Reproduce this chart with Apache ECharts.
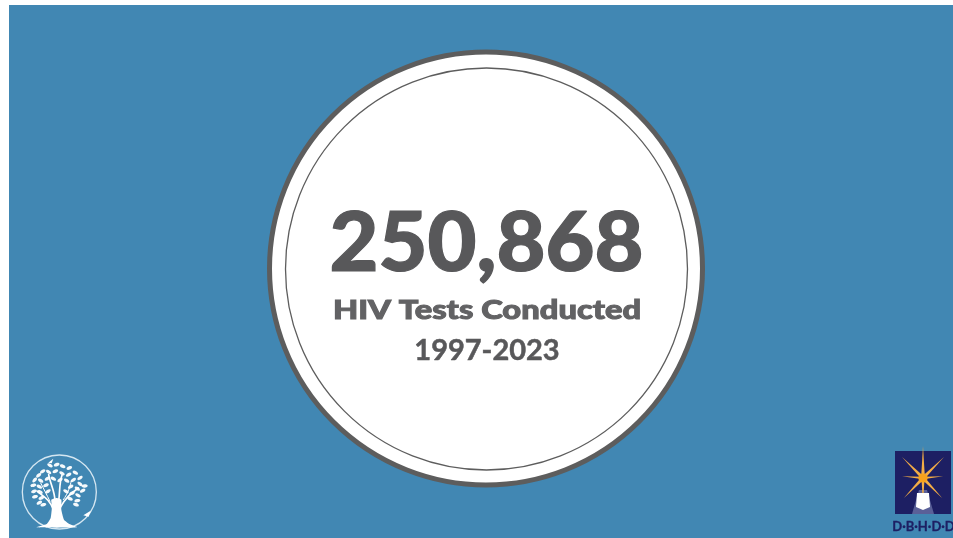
<!DOCTYPE html>
<html><head><meta charset="utf-8">
<style>html,body{margin:0;padding:0;background:#fff}#c{width:953px;height:538px}</style>
<script src="https://cdn.jsdelivr.net/npm/echarts@6/dist/echarts.min.js"></script>
</head><body><div id="c"></div>
<script>
const headline = ['250,868'];
const caption = ['HIV Tests Conducted'];
const years = ['1997-2023'];
const logoText = ['D·B·H·D·D'];
const leaves = [[150,82,-30],[170,80,20],[188,85,-25],[208,90,25],[128,100,30],[146,102,-35],[166,100,25],[186,106,-30],[206,110,30],[226,104,-30],[240,120,35],
[116,112,40],[104,126,50],[122,128,-35],[142,122,35],[160,122,-30],[180,126,35],[200,128,-35],[220,126,35],[240,138,-40],[254,144,5],
[100,142,10],[118,146,-30],[138,142,25],[212,146,30],[232,152,-35],[248,158,30],[102,160,20],[120,162,-25],[105,176,15],[124,180,25],[144,160,35],[198,160,-30],[216,166,25],[234,172,-30],[232,188,10],[210,182,-25],[118,194,30],[130,200,15],[228,200,-20]];
const rays = [[0,-76],[0,62],[-50,-50],[50,-50],[-46,48],[46,48],[-50,-4],[48,-4]];

const leafEls = leaves.map(l => ({type:'ellipse',shape:{cx:0,cy:0,rx:9,ry:5},x:l[0],y:l[1],rotation:l[2]*Math.PI/180,style:{fill:'#fff',opacity:0.95}}));
const branch = (x1,y1,cx1,cy1,cx2,cy2,x2,y2,w) => ({type:'bezierCurve',shape:{x1,y1,cpx1:cx1,cpy1:cy1,cpx2:cx2,cpy2:cy2,x2,y2},style:{fill:'none',stroke:'#fff',lineWidth:w,lineCap:'round'}});
const rayEls = rays.map(r => ({type:'polygon',shape:{points:[[r[0],r[1]],[r[1]*0.06,-r[0]*0.06],[-r[1]*0.06,r[0]*0.06]]},style:{fill:'#f4ad45'}}));

const chart = echarts.init(document.getElementById('c'));
chart.setOption({
  animation:false,
  backgroundColor:'#fff',
  graphic:{elements:[
    {type:'rect',shape:{x:9,y:5,width:944,height:533},style:{fill:'#4187b3'}},
    {type:'circle',shape:{cx:486,cy:268.5,r:216.5},style:{fill:'#fff',stroke:'#5d5d5d',lineWidth:5}},
    {type:'circle',shape:{cx:486.5,cy:269,r:201},style:{fill:'none',stroke:'#5d5d5d',lineWidth:1.3}},
    {type:'text',x:486.5,y:245,scaleX:1.03,style:{text:headline[0],fill:'#58585a',stroke:'#58585a',lineWidth:1.2,font:'900 82px Lato',textAlign:'center',textVerticalAlign:'middle'}},
    {type:'text',x:487,y:310,scaleX:1.21,style:{text:caption[0],fill:'#626264',stroke:'#626264',lineWidth:1,font:'900 27px Lato',textAlign:'center',textVerticalAlign:'middle'}},
    {type:'text',x:487,y:350.5,style:{text:years[0],fill:'#58585a',stroke:'#58585a',lineWidth:0.5,font:'700 29px Lato',textAlign:'center',textVerticalAlign:'middle'}},
    // tree logo
    {type:'group',x:0,y:438,scaleX:1/3,scaleY:1/3,children:[
      {type:'circle',shape:{cx:178,cy:162,r:111},style:{fill:'none',stroke:'#d4e6f1',lineWidth:4}},
      {type:'polygon',shape:{smooth:0.15,points:[[108,268],[140,258],[152,240],[156,205],[154,185],[170,180],[184,185],[184,215],[192,245],[208,258],[232,268]]},style:{fill:'#fff'}},
      branch(160,215,150,185,130,175,112,160,5),
      branch(165,190,165,160,150,135,146,110,5),
      branch(176,190,180,160,178,130,186,112,5),
      branch(180,210,195,180,215,165,235,150,5),
      branch(150,190,140,170,130,150,122,135,3),
      branch(190,185,205,165,210,145,214,128,3),
      ...leafEls,
      {type:'polygon',shape:{points:[[250,232],[272,218],[266,236]]},style:{fill:'#fff'}},
      {type:'polygon',shape:{points:[[145,74],[160,62],[155,76]]},style:{fill:'#fff'}}
    ]},
    // DBHDD logo
    {type:'rect',shape:{x:895,y:451,width:56,height:63},style:{fill:'#1d1f63'}},
    {type:'polygon',shape:{points:[[919,490],[927,490],[934,514],[912,514]]},style:{fill:'#5a6098'}},
    {type:'group',x:923,y:478,scaleX:0.42,scaleY:0.42,children:[
      ...rayEls,
      {type:'circle',shape:{cx:0,cy:0,r:11},style:{fill:'#f7a11c'}}
    ]},
    {type:'polygon',shape:{points:[[917,493],[929,493],[930,507],[923,510],[916,507]]},style:{fill:'#fff'}},
    {type:'text',x:923.5,y:527,style:{text:logoText[0],fill:'#1d1f63',stroke:'#1d1f63',lineWidth:0.3,font:'700 13px "Liberation Sans Narrow", Lato',textAlign:'center',textVerticalAlign:'middle'}}
  ]}
});
</script></body></html>
